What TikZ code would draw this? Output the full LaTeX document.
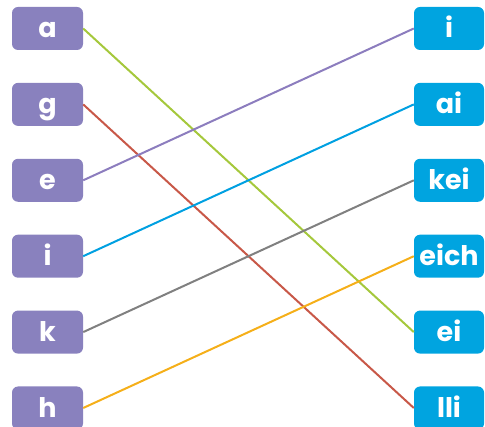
\documentclass[tikz,border=0pt]{standalone}
\usepackage{fontspec}
\setsansfont{Poppins}
\usetikzlibrary{positioning}
\definecolor{lilac}{RGB}{137,129,190}
\definecolor{sky}{RGB}{0,164,224}
\definecolor{lgreen}{RGB}{165,200,60}
\definecolor{brick}{RGB}{200,88,72}
\definecolor{lline}{RGB}{140,125,190}
\definecolor{sline}{RGB}{0,160,225}
\definecolor{gline}{RGB}{128,128,128}
\definecolor{oline}{RGB}{245,175,25}
\begin{document}
\begin{tikzpicture}[
  font=\sffamily\bfseries\fontsize{27}{27}\selectfont,
  lft/.style={fill=lilac, rounded corners=6pt, text=white, minimum width=71pt, minimum height=43pt, inner sep=0pt, text height=19pt, text depth=0pt},
  rgt/.style={lft, fill=sky, minimum width=70pt},
  lnk/.style={line width=2pt}
]
\useasboundingbox (0,0) rectangle (485pt,-427pt);
% left column
\node[lft] (a) at (47.5pt,-28.5pt) {a};
\node[lft, below=32.5pt of a] (g) {g};
\node[lft, below=32.5pt of g] (e) {e};
\node[lft, below=32.5pt of e] (i) {i};
\node[lft, below=32.5pt of i] (k) {k};
\node[lft, below=32.5pt of k] (h) {h};
% right column
\node[rgt] (ri) at (449pt,-28.5pt) {i};
\node[rgt, below=32.5pt of ri] (rai) {ai};
\node[rgt, below=32.5pt of rai] (rkei) {kei};
\node[rgt, below=32.5pt of rkei] (reich) {eich};
\node[rgt, below=32.5pt of reich] (rei) {ei};
\node[rgt, below=32.5pt of rei] (rlli) {lli};
% links
\draw[lnk, lgreen] (a.east) -- (rei.west);
\draw[lnk, brick] (g.east) -- (rlli.west);
\draw[lnk, lline] (e.east) -- (ri.west);
\draw[lnk, sline] (i.east) -- (rai.west);
\draw[lnk, gline] (k.east) -- (rkei.west);
\draw[lnk, oline] (h.east) -- (reich.west);
\end{tikzpicture}
\end{document}
